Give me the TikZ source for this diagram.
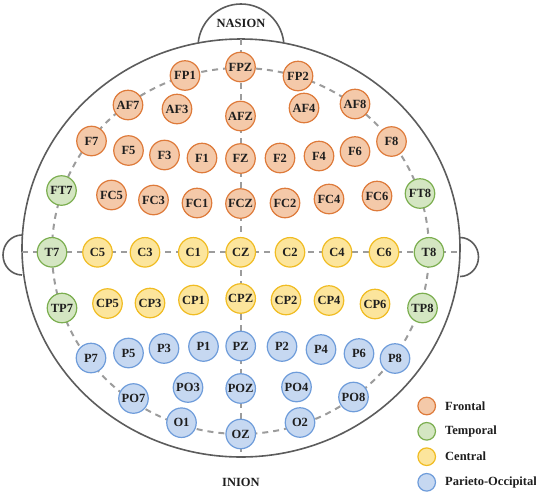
\documentclass[tikz,border=0pt]{standalone}
\usepackage{fontspec}
\setmainfont{Liberation Serif}
\definecolor{frF}{HTML}{F4C9A9}
\definecolor{frD}{HTML}{DE7A3A}
\definecolor{teF}{HTML}{D4E6C2}
\definecolor{teD}{HTML}{7BAE4F}
\definecolor{ceF}{HTML}{FCE59C}
\definecolor{ceD}{HTML}{F0BC22}
\definecolor{paF}{HTML}{C6D8F1}
\definecolor{paD}{HTML}{6E9CDA}
\definecolor{headC}{HTML}{5C5C5C}
\definecolor{dashC}{HTML}{9C9C9C}
\definecolor{txtC}{HTML}{1E1E1E}
\begin{document}
\begin{tikzpicture}[x=1pt,y=-1pt,
  lbl/.style={font=\fontsize{12.5}{14}\selectfont\bfseries, text=txtC},
  elec/.style={circle, minimum size=29.5pt, inner sep=0pt, line width=1.2pt, lbl},
  fr/.style={elec, fill=frF, draw=frD},
  te/.style={elec, fill=teF, draw=teD},
  ce/.style={elec, fill=ceF, draw=ceD},
  pa/.style={elec, fill=paF, draw=paD},
  leg/.style={circle, minimum size=17.6pt, inner sep=0pt, line width=1.2pt},
  headline/.style={draw=headC, line width=1.6pt},
  guide/.style={draw=dashC, line width=2pt, dash pattern=on 6pt off 5pt}]
\useasboundingbox (0,0) rectangle (536,496);
% head outline
\draw[headline] (241,248) ellipse [x radius=219, y radius=209];
\draw[headline] (241,47) ++(-6:43) arc [start angle=-6, end angle=-174, radius=43];
\draw[headline] (22,235) arc [start angle=-90, end angle=-270, x radius=19, y radius=20];
\draw[headline] (460,237.5) arc [start angle=-90, end angle=90, x radius=18.5, y radius=19.5];
% guide coordinates
\coordinate (hT) at (241,39);
\coordinate (hB) at (241,457);
\coordinate (hL) at (22,252);
\coordinate (hR) at (460,252);
% guides
\draw[guide] (240.5,251) ellipse [x radius=188.5, y radius=183];
\draw[guide] (hT) -- (hB);
\draw[guide] (hL) -- (hR);
% frontal
\node[fr] (FP1) at (185,75.5) {FP1};
\node[fr] (FPZ) at (240.5,67) {FPZ};
\node[fr] (FP2) at (298,76) {FP2};
\node[fr] (AF7) at (128,105) {AF7};
\node[fr] (AF3) at (177,109) {AF3};
\node[fr] (AFZ) at (240.5,116) {AFZ};
\node[fr] (AF4) at (304,108) {AF4};
\node[fr] (AF8) at (355,104) {AF8};
\node[fr] (F7) at (91.5,141) {F7};
\node[fr] (F5) at (128.5,150.5) {F5};
\node[fr] (F3) at (164.5,155) {F3};
\node[fr] (F1) at (202,158) {F1};
\node[fr] (FZ) at (240.5,158.5) {FZ};
\node[fr] (F2) at (280,158) {F2};
\node[fr] (F4) at (319,156) {F4};
\node[fr] (F6) at (355,151.5) {F6};
\node[fr] (F8) at (391.5,141.5) {F8};
\node[fr] (FC5) at (111.5,195) {FC5};
\node[fr] (FC3) at (153.5,200) {FC3};
\node[fr] (FC1) at (197,203) {FC1};
\node[fr] (FCZ) at (240.5,203.5) {FCZ};
\node[fr] (FC2) at (285,203) {FC2};
\node[fr] (FC4) at (329,199) {FC4};
\node[fr] (FC6) at (377,196) {FC6};
% temporal
\node[te] (FT7) at (61.5,190.5) {FT7};
\node[te] (FT8) at (420,193.5) {FT8};
\node[te] (T7) at (52,252.3) {T7};
\node[te] (T8) at (429,252.3) {T8};
\node[te] (TP7) at (62,308) {TP7};
\node[te] (TP8) at (422.5,308) {TP8};
% central
\node[ce] (C5) at (97.5,252.3) {C5};
\node[ce] (C3) at (145,252.3) {C3};
\node[ce] (C1) at (193.3,252.3) {C1};
\node[ce] (CZ) at (240.7,252.3) {CZ};
\node[ce] (C2) at (290,252.3) {C2};
\node[ce] (C4) at (337,252.3) {C4};
\node[ce] (C6) at (384,252.3) {C6};
\node[ce] (CP5) at (107.5,303.5) {CP5};
\node[ce] (CP3) at (150,303) {CP3};
\node[ce] (CP1) at (193.5,300) {CP1};
\node[ce] (CPZ) at (240.7,298.5) {CPZ};
\node[ce] (CP2) at (286,300) {CP2};
\node[ce] (CP4) at (329,300.5) {CP4};
\node[ce] (CP6) at (375,304) {CP6};
% parieto-occipital
\node[pa] (P7) at (91,358) {P7};
\node[pa] (P5) at (128.5,353) {P5};
\node[pa] (P3) at (164,348.5) {P3};
\node[pa] (P1) at (203.5,346.5) {P1};
\node[pa] (PZ) at (240.7,346) {PZ};
\node[pa] (P2) at (282,346.5) {P2};
\node[pa] (P4) at (321,349.5) {P4};
\node[pa] (P6) at (359,353.5) {P6};
\node[pa] (P8) at (395,358.5) {P8};
\node[pa] (PO7) at (133.5,398.5) {PO7};
\node[pa] (PO3) at (188,387.5) {PO3};
\node[pa] (POZ) at (240.7,388.5) {POZ};
\node[pa] (PO4) at (296.5,387) {PO4};
\node[pa] (PO8) at (353.5,397) {PO8};
\node[pa] (O1) at (181.5,422.7) {O1};
\node[pa] (OZ) at (240.7,434) {OZ};
\node[pa] (O2) at (300,422.5) {O2};
% landmarks
\node[lbl] (nasion) at (241,23) {NASION};
\node[lbl] (inion) at (241,482) {INION};
% legend
\node[leg, fill=frF, draw=frD] (lgF) at (426.7,406) {};
\node[leg, fill=teF, draw=teD] (lgT) at (426.7,431.3) {};
\node[leg, fill=ceF, draw=ceD] (lgC) at (426.7,456.7) {};
\node[leg, fill=paF, draw=paD] (lgP) at (426.7,482.3) {};
\node[lbl, anchor=west, inner sep=0pt] (tF) at (445,406) {Frontal};
\node[lbl, anchor=west, inner sep=0pt] (tT) at (445,431.3) {Temporal};
\node[lbl, anchor=west, inner sep=0pt] (tC) at (445,456.7) {Central};
\node[lbl, anchor=west, inner sep=0pt] (tP) at (445,482.3) {Parieto-Occipital};
\end{tikzpicture}
\end{document}
